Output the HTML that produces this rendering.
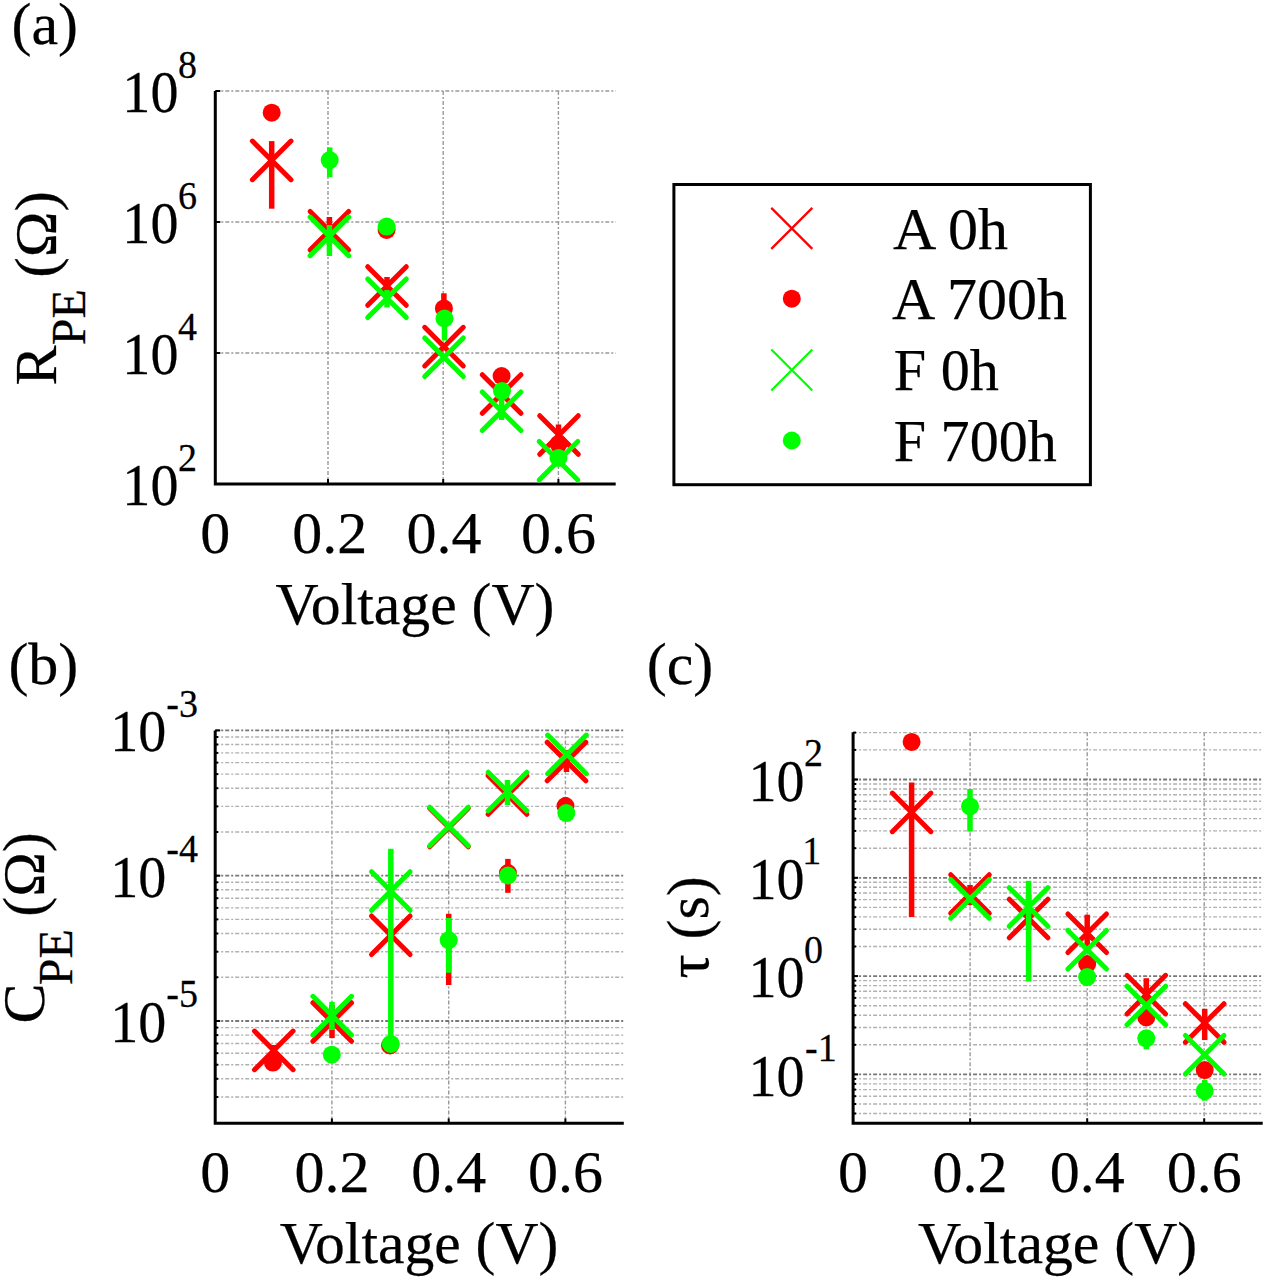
<!DOCTYPE html><html><head><meta charset="utf-8"><style>html,body{margin:0;padding:0;background:#fff;}svg{display:block;font-family:"Liberation Serif", serif}text{fill:#000;stroke:#000;stroke-width:0.25px}</style></head><body>
<svg width="1267" height="1280" viewBox="0 0 1267 1280" >
<rect width="1267" height="1280" fill="#fff"/>
<line x1="328.0" y1="91.0" x2="328.0" y2="484.0" stroke="#999" stroke-width="1.4" stroke-dasharray="4 2 2 2"/>
<line x1="443.2" y1="91.0" x2="443.2" y2="484.0" stroke="#999" stroke-width="1.4" stroke-dasharray="4 2 2 2"/>
<line x1="558.4" y1="91.0" x2="558.4" y2="484.0" stroke="#999" stroke-width="1.4" stroke-dasharray="4 2 2 2"/>
<line x1="215.3" y1="91.0" x2="615.7" y2="91.0" stroke="#999" stroke-width="1.4" stroke-dasharray="4 2 2 2"/>
<line x1="215.3" y1="222.0" x2="615.7" y2="222.0" stroke="#999" stroke-width="1.4" stroke-dasharray="4 2 2 2"/>
<line x1="215.3" y1="353.0" x2="615.7" y2="353.0" stroke="#999" stroke-width="1.4" stroke-dasharray="4 2 2 2"/>
<line x1="328.0" y1="484.0" x2="328.0" y2="479.0" stroke="#000" stroke-width="2"/>
<line x1="443.2" y1="484.0" x2="443.2" y2="479.0" stroke="#000" stroke-width="2"/>
<line x1="558.4" y1="484.0" x2="558.4" y2="479.0" stroke="#000" stroke-width="2"/>
<line x1="215.3" y1="91.0" x2="220.3" y2="91.0" stroke="#000" stroke-width="2"/>
<line x1="215.3" y1="222.0" x2="220.3" y2="222.0" stroke="#000" stroke-width="2"/>
<line x1="215.3" y1="353.0" x2="220.3" y2="353.0" stroke="#000" stroke-width="2"/>
<path d="M215.3 91.0V484.0H615.7" stroke="#000" stroke-width="3" fill="none"/>
<text transform="translate(122.33 112.20) scale(0.935 1)" font-size="60">10</text>
<text transform="translate(177.90 77.50) scale(0.95 1)" font-size="40">8</text>
<text transform="translate(122.33 243.20) scale(0.935 1)" font-size="60">10</text>
<text transform="translate(177.90 208.50) scale(0.95 1)" font-size="40">6</text>
<text transform="translate(122.33 374.20) scale(0.935 1)" font-size="60">10</text>
<text transform="translate(177.90 339.50) scale(0.95 1)" font-size="40">4</text>
<text transform="translate(122.33 505.20) scale(0.935 1)" font-size="60">10</text>
<text transform="translate(177.90 470.50) scale(0.95 1)" font-size="40">2</text>
<text x="215.3" y="552.6" font-size="60" text-anchor="middle">0</text>
<text x="329.7" y="552.6" font-size="60" text-anchor="middle">0.2</text>
<text x="444.1" y="552.6" font-size="60" text-anchor="middle">0.4</text>
<text x="558.5" y="552.6" font-size="60" text-anchor="middle">0.6</text>
<text x="275.4" y="624.4" font-size="60" textLength="279" lengthAdjust="spacingAndGlyphs">Voltage (V)</text>
<text x="11.5" y="44.4" font-size="60" >(a)</text>
<text transform="translate(56.00 385.60) rotate(-90)" font-size="60">R</text>
<text transform="translate(85.00 345.20) rotate(-90)" font-size="48">PE</text>
<text transform="translate(56.00 277.80) rotate(-90)" font-size="60" textLength="86.8" lengthAdjust="spacingAndGlyphs">(Ω)</text>
<line x1="271.7" y1="141.1" x2="271.7" y2="208.7" stroke="#ff0000" stroke-width="5.5"/>
<path d="M252.4 141.1L291.0 179.7M252.4 179.7L291.0 141.1" stroke="#ff0000" stroke-width="5.0" stroke-linecap="round" fill="none"/>
<line x1="329.4" y1="217.0" x2="329.4" y2="245.0" stroke="#ff0000" stroke-width="5.5"/>
<path d="M310.1 211.4L348.7 250.0M310.1 250.0L348.7 211.4" stroke="#ff0000" stroke-width="5.0" stroke-linecap="round" fill="none"/>
<line x1="387.0" y1="277.0" x2="387.0" y2="295.0" stroke="#ff0000" stroke-width="5.5"/>
<path d="M367.7 266.7L406.3 305.3M367.7 305.3L406.3 266.7" stroke="#ff0000" stroke-width="5.0" stroke-linecap="round" fill="none"/>
<path d="M424.7 327.3L463.3 365.9M424.7 365.9L463.3 327.3" stroke="#ff0000" stroke-width="5.0" stroke-linecap="round" fill="none"/>
<path d="M482.3 374.7L520.9 413.3M482.3 413.3L520.9 374.7" stroke="#ff0000" stroke-width="5.0" stroke-linecap="round" fill="none"/>
<line x1="558.5" y1="424.5" x2="558.5" y2="446.0" stroke="#ff0000" stroke-width="5.5"/>
<path d="M539.7 415.7L578.3 454.3M539.7 454.3L578.3 415.7" stroke="#ff0000" stroke-width="5.0" stroke-linecap="round" fill="none"/>
<circle cx="271.7" cy="112.7" r="9.0" fill="#ff0000"/>
<circle cx="386.6" cy="230.0" r="9.0" fill="#ff0000"/>
<line x1="443.9" y1="293.3" x2="443.9" y2="320.0" stroke="#ff0000" stroke-width="5.5"/>
<circle cx="443.9" cy="308.4" r="9.0" fill="#ff0000"/>
<circle cx="501.6" cy="376.0" r="9.0" fill="#ff0000"/>
<circle cx="558.5" cy="444.0" r="9.0" fill="#ff0000"/>
<line x1="329.4" y1="225.0" x2="329.4" y2="256.0" stroke="#00ff00" stroke-width="5.5"/>
<path d="M310.1 217.1L348.7 255.7M310.1 255.7L348.7 217.1" stroke="#00ff00" stroke-width="5.0" stroke-linecap="round" fill="none"/>
<line x1="387.0" y1="290.0" x2="387.0" y2="307.4" stroke="#00ff00" stroke-width="5.5"/>
<path d="M367.7 279.0L406.3 317.6M367.7 317.6L406.3 279.0" stroke="#00ff00" stroke-width="5.0" stroke-linecap="round" fill="none"/>
<path d="M424.7 338.0L463.3 376.6M424.7 376.6L463.3 338.0" stroke="#00ff00" stroke-width="5.0" stroke-linecap="round" fill="none"/>
<line x1="501.6" y1="385.0" x2="501.6" y2="420.0" stroke="#00ff00" stroke-width="5.5"/>
<path d="M482.3 392.0L520.9 430.6M482.3 430.6L520.9 392.0" stroke="#00ff00" stroke-width="5.0" stroke-linecap="round" fill="none"/>
<path d="M539.2 441.5L577.8 480.1M539.2 480.1L577.8 441.5" stroke="#00ff00" stroke-width="5.0" stroke-linecap="round" fill="none"/>
<circle cx="329.7" cy="160.1" r="9.0" fill="#00ff00"/>
<line x1="329.7" y1="147.4" x2="329.7" y2="177.1" stroke="#00ff00" stroke-width="5.5"/>
<circle cx="386.6" cy="226.6" r="9.0" fill="#00ff00"/>
<line x1="444.5" y1="310.0" x2="444.5" y2="340.6" stroke="#00ff00" stroke-width="5.5"/>
<circle cx="444.5" cy="318.5" r="9.0" fill="#00ff00"/>
<circle cx="502.0" cy="391.1" r="9.0" fill="#00ff00"/>
<circle cx="558.5" cy="458.0" r="9.0" fill="#00ff00"/>
<rect x="673.9" y="184.5" width="416.5" height="300.2" fill="none" stroke="#000" stroke-width="3"/>
<path d="M771.3 207.9L812.3 248.9M771.3 248.9L812.3 207.9" stroke="#ff0000" stroke-width="2.2" fill="none"/>
<circle cx="791.8" cy="298.7" r="9.0" fill="#ff0000"/>
<path d="M771.3 349.5L812.3 390.5M771.3 390.5L812.3 349.5" stroke="#00ff00" stroke-width="2.2" fill="none"/>
<circle cx="791.8" cy="440.5" r="9.0" fill="#00ff00"/>
<text x="893.1" y="248.6" font-size="60" >A 0h</text>
<text x="892.1" y="318.7" font-size="60" >A 700h</text>
<text x="893.8" y="389.9" font-size="60" textLength="105.1" lengthAdjust="spacingAndGlyphs">F 0h</text>
<text x="893.8" y="460.6" font-size="60" textLength="163" lengthAdjust="spacingAndGlyphs">F 700h</text>
<line x1="331.9" y1="730.5" x2="331.9" y2="1123.3" stroke="#999" stroke-width="1.4" stroke-dasharray="4 2 2 2"/>
<line x1="448.7" y1="730.5" x2="448.7" y2="1123.3" stroke="#999" stroke-width="1.4" stroke-dasharray="4 2 2 2"/>
<line x1="565.4" y1="730.5" x2="565.4" y2="1123.3" stroke="#999" stroke-width="1.4" stroke-dasharray="4 2 2 2"/>
<line x1="215.2" y1="1097.0" x2="623.8" y2="1097.0" stroke="#b0b0b0" stroke-width="1.4" stroke-dasharray="4 2 2 2"/>
<line x1="215.2" y1="1078.8" x2="623.8" y2="1078.8" stroke="#b0b0b0" stroke-width="1.4" stroke-dasharray="4 2 2 2"/>
<line x1="215.2" y1="1064.7" x2="623.8" y2="1064.7" stroke="#b0b0b0" stroke-width="1.4" stroke-dasharray="4 2 2 2"/>
<line x1="215.2" y1="1053.2" x2="623.8" y2="1053.2" stroke="#b0b0b0" stroke-width="1.4" stroke-dasharray="4 2 2 2"/>
<line x1="215.2" y1="1043.5" x2="623.8" y2="1043.5" stroke="#b0b0b0" stroke-width="1.4" stroke-dasharray="4 2 2 2"/>
<line x1="215.2" y1="1035.1" x2="623.8" y2="1035.1" stroke="#b0b0b0" stroke-width="1.4" stroke-dasharray="4 2 2 2"/>
<line x1="215.2" y1="1027.6" x2="623.8" y2="1027.6" stroke="#b0b0b0" stroke-width="1.4" stroke-dasharray="4 2 2 2"/>
<line x1="215.2" y1="977.3" x2="623.8" y2="977.3" stroke="#b0b0b0" stroke-width="1.4" stroke-dasharray="4 2 2 2"/>
<line x1="215.2" y1="951.7" x2="623.8" y2="951.7" stroke="#b0b0b0" stroke-width="1.4" stroke-dasharray="4 2 2 2"/>
<line x1="215.2" y1="933.5" x2="623.8" y2="933.5" stroke="#b0b0b0" stroke-width="1.4" stroke-dasharray="4 2 2 2"/>
<line x1="215.2" y1="919.4" x2="623.8" y2="919.4" stroke="#b0b0b0" stroke-width="1.4" stroke-dasharray="4 2 2 2"/>
<line x1="215.2" y1="907.9" x2="623.8" y2="907.9" stroke="#b0b0b0" stroke-width="1.4" stroke-dasharray="4 2 2 2"/>
<line x1="215.2" y1="898.2" x2="623.8" y2="898.2" stroke="#b0b0b0" stroke-width="1.4" stroke-dasharray="4 2 2 2"/>
<line x1="215.2" y1="889.8" x2="623.8" y2="889.8" stroke="#b0b0b0" stroke-width="1.4" stroke-dasharray="4 2 2 2"/>
<line x1="215.2" y1="882.3" x2="623.8" y2="882.3" stroke="#b0b0b0" stroke-width="1.4" stroke-dasharray="4 2 2 2"/>
<line x1="215.2" y1="832.0" x2="623.8" y2="832.0" stroke="#b0b0b0" stroke-width="1.4" stroke-dasharray="4 2 2 2"/>
<line x1="215.2" y1="806.4" x2="623.8" y2="806.4" stroke="#b0b0b0" stroke-width="1.4" stroke-dasharray="4 2 2 2"/>
<line x1="215.2" y1="788.2" x2="623.8" y2="788.2" stroke="#b0b0b0" stroke-width="1.4" stroke-dasharray="4 2 2 2"/>
<line x1="215.2" y1="774.1" x2="623.8" y2="774.1" stroke="#b0b0b0" stroke-width="1.4" stroke-dasharray="4 2 2 2"/>
<line x1="215.2" y1="762.6" x2="623.8" y2="762.6" stroke="#b0b0b0" stroke-width="1.4" stroke-dasharray="4 2 2 2"/>
<line x1="215.2" y1="752.9" x2="623.8" y2="752.9" stroke="#b0b0b0" stroke-width="1.4" stroke-dasharray="4 2 2 2"/>
<line x1="215.2" y1="744.5" x2="623.8" y2="744.5" stroke="#b0b0b0" stroke-width="1.4" stroke-dasharray="4 2 2 2"/>
<line x1="215.2" y1="737.0" x2="623.8" y2="737.0" stroke="#b0b0b0" stroke-width="1.4" stroke-dasharray="4 2 2 2"/>
<line x1="215.2" y1="730.4" x2="623.8" y2="730.4" stroke="#777" stroke-width="1.8" stroke-dasharray="4 2 2 2"/>
<line x1="215.2" y1="875.7" x2="623.8" y2="875.7" stroke="#777" stroke-width="1.8" stroke-dasharray="4 2 2 2"/>
<line x1="215.2" y1="1021.0" x2="623.8" y2="1021.0" stroke="#777" stroke-width="1.8" stroke-dasharray="4 2 2 2"/>
<line x1="331.9" y1="1123.3" x2="331.9" y2="1118.3" stroke="#000" stroke-width="2"/>
<line x1="448.7" y1="1123.3" x2="448.7" y2="1118.3" stroke="#000" stroke-width="2"/>
<line x1="565.4" y1="1123.3" x2="565.4" y2="1118.3" stroke="#000" stroke-width="2"/>
<line x1="215.2" y1="730.4" x2="220.2" y2="730.4" stroke="#000" stroke-width="2"/>
<line x1="215.2" y1="875.7" x2="220.2" y2="875.7" stroke="#000" stroke-width="2"/>
<line x1="215.2" y1="1021.0" x2="220.2" y2="1021.0" stroke="#000" stroke-width="2"/>
<line x1="215.2" y1="1097.0" x2="218.2" y2="1097.0" stroke="#000" stroke-width="2"/>
<line x1="215.2" y1="1078.8" x2="218.2" y2="1078.8" stroke="#000" stroke-width="2"/>
<line x1="215.2" y1="1064.7" x2="218.2" y2="1064.7" stroke="#000" stroke-width="2"/>
<line x1="215.2" y1="1053.2" x2="218.2" y2="1053.2" stroke="#000" stroke-width="2"/>
<line x1="215.2" y1="1043.5" x2="218.2" y2="1043.5" stroke="#000" stroke-width="2"/>
<line x1="215.2" y1="1035.1" x2="218.2" y2="1035.1" stroke="#000" stroke-width="2"/>
<line x1="215.2" y1="1027.6" x2="218.2" y2="1027.6" stroke="#000" stroke-width="2"/>
<line x1="215.2" y1="977.3" x2="218.2" y2="977.3" stroke="#000" stroke-width="2"/>
<line x1="215.2" y1="951.7" x2="218.2" y2="951.7" stroke="#000" stroke-width="2"/>
<line x1="215.2" y1="933.5" x2="218.2" y2="933.5" stroke="#000" stroke-width="2"/>
<line x1="215.2" y1="919.4" x2="218.2" y2="919.4" stroke="#000" stroke-width="2"/>
<line x1="215.2" y1="907.9" x2="218.2" y2="907.9" stroke="#000" stroke-width="2"/>
<line x1="215.2" y1="898.2" x2="218.2" y2="898.2" stroke="#000" stroke-width="2"/>
<line x1="215.2" y1="889.8" x2="218.2" y2="889.8" stroke="#000" stroke-width="2"/>
<line x1="215.2" y1="882.3" x2="218.2" y2="882.3" stroke="#000" stroke-width="2"/>
<line x1="215.2" y1="832.0" x2="218.2" y2="832.0" stroke="#000" stroke-width="2"/>
<line x1="215.2" y1="806.4" x2="218.2" y2="806.4" stroke="#000" stroke-width="2"/>
<line x1="215.2" y1="788.2" x2="218.2" y2="788.2" stroke="#000" stroke-width="2"/>
<line x1="215.2" y1="774.1" x2="218.2" y2="774.1" stroke="#000" stroke-width="2"/>
<line x1="215.2" y1="762.6" x2="218.2" y2="762.6" stroke="#000" stroke-width="2"/>
<line x1="215.2" y1="752.9" x2="218.2" y2="752.9" stroke="#000" stroke-width="2"/>
<line x1="215.2" y1="744.5" x2="218.2" y2="744.5" stroke="#000" stroke-width="2"/>
<line x1="215.2" y1="737.0" x2="218.2" y2="737.0" stroke="#000" stroke-width="2"/>
<path d="M215.2 730.5V1123.3H623.8" stroke="#000" stroke-width="3" fill="none"/>
<text transform="translate(110.23 751.40) scale(0.935 1)" font-size="60">10</text>
<text transform="translate(166.25 716.70) scale(0.95 1)" font-size="40">-3</text>
<text transform="translate(110.23 896.70) scale(0.935 1)" font-size="60">10</text>
<text transform="translate(166.25 862.00) scale(0.95 1)" font-size="40">-4</text>
<text transform="translate(110.23 1042.00) scale(0.935 1)" font-size="60">10</text>
<text transform="translate(166.25 1007.30) scale(0.95 1)" font-size="40">-5</text>
<text x="215.2" y="1192.0" font-size="60" text-anchor="middle">0</text>
<text x="331.9" y="1192.0" font-size="60" text-anchor="middle">0.2</text>
<text x="448.7" y="1192.0" font-size="60" text-anchor="middle">0.4</text>
<text x="565.4" y="1192.0" font-size="60" text-anchor="middle">0.6</text>
<text x="279.7" y="1263.3" font-size="60" textLength="278.6" lengthAdjust="spacingAndGlyphs">Voltage (V)</text>
<text x="8.4" y="683.8" font-size="60" >(b)</text>
<text transform="translate(44.20 1023.40) rotate(-90)" font-size="60">C</text>
<text transform="translate(72.20 985.20) rotate(-90)" font-size="48">PE</text>
<text transform="translate(44.20 916.70) rotate(-90)" font-size="60" textLength="84.56" lengthAdjust="spacingAndGlyphs">(Ω)</text>
<line x1="273.5" y1="1045.0" x2="273.5" y2="1068.0" stroke="#ff0000" stroke-width="5.5"/>
<path d="M254.5 1031.1L293.1 1069.7M254.5 1069.7L293.1 1031.1" stroke="#ff0000" stroke-width="5.0" stroke-linecap="round" fill="none"/>
<line x1="332.0" y1="1005.0" x2="332.0" y2="1038.1" stroke="#ff0000" stroke-width="5.5"/>
<path d="M312.9 1002.7L351.5 1041.3M312.9 1041.3L351.5 1002.7" stroke="#ff0000" stroke-width="5.0" stroke-linecap="round" fill="none"/>
<line x1="390.8" y1="912.8" x2="390.8" y2="965.7" stroke="#ff0000" stroke-width="3"/>
<path d="M371.5 915.9L410.1 954.5M371.5 954.5L410.1 915.9" stroke="#ff0000" stroke-width="5.0" stroke-linecap="round" fill="none"/>
<path d="M429.7 808.2L468.3 846.8M429.7 846.8L468.3 808.2" stroke="#ff0000" stroke-width="5.0" stroke-linecap="round" fill="none"/>
<path d="M488.2 775.7L526.8 814.3M488.2 814.3L526.8 775.7" stroke="#ff0000" stroke-width="5.0" stroke-linecap="round" fill="none"/>
<line x1="566.5" y1="750.0" x2="566.5" y2="772.0" stroke="#ff0000" stroke-width="5.5"/>
<path d="M547.2 742.2L585.8 780.8M547.2 780.8L585.8 742.2" stroke="#ff0000" stroke-width="5.0" stroke-linecap="round" fill="none"/>
<circle cx="272.9" cy="1062.6" r="9.0" fill="#ff0000"/>
<circle cx="390.0" cy="1045.5" r="9.0" fill="#ff0000"/>
<line x1="448.7" y1="913.8" x2="448.7" y2="985.0" stroke="#ff0000" stroke-width="5.5"/>
<line x1="507.9" y1="858.9" x2="507.9" y2="892.8" stroke="#ff0000" stroke-width="5.5"/>
<circle cx="507.9" cy="873.0" r="9.0" fill="#ff0000"/>
<line x1="565.5" y1="797.3" x2="565.5" y2="815.0" stroke="#ff0000" stroke-width="5.5"/>
<circle cx="565.5" cy="806.0" r="9.0" fill="#ff0000"/>
<line x1="332.0" y1="1001.8" x2="332.0" y2="1030.0" stroke="#00ff00" stroke-width="5.5"/>
<path d="M312.9 996.3L351.5 1034.9M312.9 1034.9L351.5 996.3" stroke="#00ff00" stroke-width="5.0" stroke-linecap="round" fill="none"/>
<line x1="390.8" y1="848.8" x2="390.8" y2="1043.9" stroke="#00ff00" stroke-width="5.5"/>
<path d="M371.5 871.7L410.1 910.3M371.5 910.3L410.1 871.7" stroke="#00ff00" stroke-width="5.0" stroke-linecap="round" fill="none"/>
<path d="M429.7 807.2L468.3 845.8M429.7 845.8L468.3 807.2" stroke="#00ff00" stroke-width="5.0" stroke-linecap="round" fill="none"/>
<line x1="507.5" y1="780.0" x2="507.5" y2="805.0" stroke="#00ff00" stroke-width="5.5"/>
<path d="M488.2 772.2L526.8 810.8M488.2 810.8L526.8 772.2" stroke="#00ff00" stroke-width="5.0" stroke-linecap="round" fill="none"/>
<path d="M547.7 735.1L586.3 773.7M547.7 773.7L586.3 735.1" stroke="#00ff00" stroke-width="5.0" stroke-linecap="round" fill="none"/>
<circle cx="331.8" cy="1054.7" r="9.0" fill="#00ff00"/>
<circle cx="390.8" cy="1043.9" r="9.0" fill="#00ff00"/>
<line x1="448.7" y1="917.9" x2="448.7" y2="972.8" stroke="#00ff00" stroke-width="5.5"/>
<circle cx="448.7" cy="940.2" r="9.0" fill="#00ff00"/>
<circle cx="507.9" cy="875.5" r="9.0" fill="#00ff00"/>
<circle cx="566.3" cy="813.1" r="9.0" fill="#00ff00"/>
<line x1="970.1" y1="732.2" x2="970.1" y2="1123.3" stroke="#999" stroke-width="1.4" stroke-dasharray="4 2 2 2"/>
<line x1="1087.2" y1="732.2" x2="1087.2" y2="1123.3" stroke="#999" stroke-width="1.4" stroke-dasharray="4 2 2 2"/>
<line x1="1204.2" y1="732.2" x2="1204.2" y2="1123.3" stroke="#999" stroke-width="1.4" stroke-dasharray="4 2 2 2"/>
<line x1="853.1" y1="1113.5" x2="1262.7" y2="1113.5" stroke="#b0b0b0" stroke-width="1.4" stroke-dasharray="4 2 2 2"/>
<line x1="853.1" y1="1104.0" x2="1262.7" y2="1104.0" stroke="#b0b0b0" stroke-width="1.4" stroke-dasharray="4 2 2 2"/>
<line x1="853.1" y1="1096.2" x2="1262.7" y2="1096.2" stroke="#b0b0b0" stroke-width="1.4" stroke-dasharray="4 2 2 2"/>
<line x1="853.1" y1="1089.6" x2="1262.7" y2="1089.6" stroke="#b0b0b0" stroke-width="1.4" stroke-dasharray="4 2 2 2"/>
<line x1="853.1" y1="1083.9" x2="1262.7" y2="1083.9" stroke="#b0b0b0" stroke-width="1.4" stroke-dasharray="4 2 2 2"/>
<line x1="853.1" y1="1078.9" x2="1262.7" y2="1078.9" stroke="#b0b0b0" stroke-width="1.4" stroke-dasharray="4 2 2 2"/>
<line x1="853.1" y1="1044.8" x2="1262.7" y2="1044.8" stroke="#b0b0b0" stroke-width="1.4" stroke-dasharray="4 2 2 2"/>
<line x1="853.1" y1="1027.5" x2="1262.7" y2="1027.5" stroke="#b0b0b0" stroke-width="1.4" stroke-dasharray="4 2 2 2"/>
<line x1="853.1" y1="1015.2" x2="1262.7" y2="1015.2" stroke="#b0b0b0" stroke-width="1.4" stroke-dasharray="4 2 2 2"/>
<line x1="853.1" y1="1005.7" x2="1262.7" y2="1005.7" stroke="#b0b0b0" stroke-width="1.4" stroke-dasharray="4 2 2 2"/>
<line x1="853.1" y1="997.9" x2="1262.7" y2="997.9" stroke="#b0b0b0" stroke-width="1.4" stroke-dasharray="4 2 2 2"/>
<line x1="853.1" y1="991.3" x2="1262.7" y2="991.3" stroke="#b0b0b0" stroke-width="1.4" stroke-dasharray="4 2 2 2"/>
<line x1="853.1" y1="985.6" x2="1262.7" y2="985.6" stroke="#b0b0b0" stroke-width="1.4" stroke-dasharray="4 2 2 2"/>
<line x1="853.1" y1="980.6" x2="1262.7" y2="980.6" stroke="#b0b0b0" stroke-width="1.4" stroke-dasharray="4 2 2 2"/>
<line x1="853.1" y1="946.5" x2="1262.7" y2="946.5" stroke="#b0b0b0" stroke-width="1.4" stroke-dasharray="4 2 2 2"/>
<line x1="853.1" y1="929.2" x2="1262.7" y2="929.2" stroke="#b0b0b0" stroke-width="1.4" stroke-dasharray="4 2 2 2"/>
<line x1="853.1" y1="916.9" x2="1262.7" y2="916.9" stroke="#b0b0b0" stroke-width="1.4" stroke-dasharray="4 2 2 2"/>
<line x1="853.1" y1="907.4" x2="1262.7" y2="907.4" stroke="#b0b0b0" stroke-width="1.4" stroke-dasharray="4 2 2 2"/>
<line x1="853.1" y1="899.6" x2="1262.7" y2="899.6" stroke="#b0b0b0" stroke-width="1.4" stroke-dasharray="4 2 2 2"/>
<line x1="853.1" y1="893.0" x2="1262.7" y2="893.0" stroke="#b0b0b0" stroke-width="1.4" stroke-dasharray="4 2 2 2"/>
<line x1="853.1" y1="887.3" x2="1262.7" y2="887.3" stroke="#b0b0b0" stroke-width="1.4" stroke-dasharray="4 2 2 2"/>
<line x1="853.1" y1="882.3" x2="1262.7" y2="882.3" stroke="#b0b0b0" stroke-width="1.4" stroke-dasharray="4 2 2 2"/>
<line x1="853.1" y1="848.2" x2="1262.7" y2="848.2" stroke="#b0b0b0" stroke-width="1.4" stroke-dasharray="4 2 2 2"/>
<line x1="853.1" y1="830.9" x2="1262.7" y2="830.9" stroke="#b0b0b0" stroke-width="1.4" stroke-dasharray="4 2 2 2"/>
<line x1="853.1" y1="818.6" x2="1262.7" y2="818.6" stroke="#b0b0b0" stroke-width="1.4" stroke-dasharray="4 2 2 2"/>
<line x1="853.1" y1="809.1" x2="1262.7" y2="809.1" stroke="#b0b0b0" stroke-width="1.4" stroke-dasharray="4 2 2 2"/>
<line x1="853.1" y1="801.3" x2="1262.7" y2="801.3" stroke="#b0b0b0" stroke-width="1.4" stroke-dasharray="4 2 2 2"/>
<line x1="853.1" y1="794.7" x2="1262.7" y2="794.7" stroke="#b0b0b0" stroke-width="1.4" stroke-dasharray="4 2 2 2"/>
<line x1="853.1" y1="789.0" x2="1262.7" y2="789.0" stroke="#b0b0b0" stroke-width="1.4" stroke-dasharray="4 2 2 2"/>
<line x1="853.1" y1="784.0" x2="1262.7" y2="784.0" stroke="#b0b0b0" stroke-width="1.4" stroke-dasharray="4 2 2 2"/>
<line x1="853.1" y1="749.9" x2="1262.7" y2="749.9" stroke="#b0b0b0" stroke-width="1.4" stroke-dasharray="4 2 2 2"/>
<line x1="853.1" y1="732.6" x2="1262.7" y2="732.6" stroke="#b0b0b0" stroke-width="1.4" stroke-dasharray="4 2 2 2"/>
<line x1="853.1" y1="779.5" x2="1262.7" y2="779.5" stroke="#777" stroke-width="1.8" stroke-dasharray="4 2 2 2"/>
<line x1="853.1" y1="877.8" x2="1262.7" y2="877.8" stroke="#777" stroke-width="1.8" stroke-dasharray="4 2 2 2"/>
<line x1="853.1" y1="976.1" x2="1262.7" y2="976.1" stroke="#777" stroke-width="1.8" stroke-dasharray="4 2 2 2"/>
<line x1="853.1" y1="1074.4" x2="1262.7" y2="1074.4" stroke="#777" stroke-width="1.8" stroke-dasharray="4 2 2 2"/>
<line x1="970.1" y1="1123.3" x2="970.1" y2="1118.3" stroke="#000" stroke-width="2"/>
<line x1="1087.2" y1="1123.3" x2="1087.2" y2="1118.3" stroke="#000" stroke-width="2"/>
<line x1="1204.2" y1="1123.3" x2="1204.2" y2="1118.3" stroke="#000" stroke-width="2"/>
<line x1="853.1" y1="779.5" x2="858.1" y2="779.5" stroke="#000" stroke-width="2"/>
<line x1="853.1" y1="877.8" x2="858.1" y2="877.8" stroke="#000" stroke-width="2"/>
<line x1="853.1" y1="976.1" x2="858.1" y2="976.1" stroke="#000" stroke-width="2"/>
<line x1="853.1" y1="1074.4" x2="858.1" y2="1074.4" stroke="#000" stroke-width="2"/>
<line x1="853.1" y1="1113.5" x2="856.1" y2="1113.5" stroke="#000" stroke-width="2"/>
<line x1="853.1" y1="1104.0" x2="856.1" y2="1104.0" stroke="#000" stroke-width="2"/>
<line x1="853.1" y1="1096.2" x2="856.1" y2="1096.2" stroke="#000" stroke-width="2"/>
<line x1="853.1" y1="1089.6" x2="856.1" y2="1089.6" stroke="#000" stroke-width="2"/>
<line x1="853.1" y1="1083.9" x2="856.1" y2="1083.9" stroke="#000" stroke-width="2"/>
<line x1="853.1" y1="1078.9" x2="856.1" y2="1078.9" stroke="#000" stroke-width="2"/>
<line x1="853.1" y1="1044.8" x2="856.1" y2="1044.8" stroke="#000" stroke-width="2"/>
<line x1="853.1" y1="1027.5" x2="856.1" y2="1027.5" stroke="#000" stroke-width="2"/>
<line x1="853.1" y1="1015.2" x2="856.1" y2="1015.2" stroke="#000" stroke-width="2"/>
<line x1="853.1" y1="1005.7" x2="856.1" y2="1005.7" stroke="#000" stroke-width="2"/>
<line x1="853.1" y1="997.9" x2="856.1" y2="997.9" stroke="#000" stroke-width="2"/>
<line x1="853.1" y1="991.3" x2="856.1" y2="991.3" stroke="#000" stroke-width="2"/>
<line x1="853.1" y1="985.6" x2="856.1" y2="985.6" stroke="#000" stroke-width="2"/>
<line x1="853.1" y1="980.6" x2="856.1" y2="980.6" stroke="#000" stroke-width="2"/>
<line x1="853.1" y1="946.5" x2="856.1" y2="946.5" stroke="#000" stroke-width="2"/>
<line x1="853.1" y1="929.2" x2="856.1" y2="929.2" stroke="#000" stroke-width="2"/>
<line x1="853.1" y1="916.9" x2="856.1" y2="916.9" stroke="#000" stroke-width="2"/>
<line x1="853.1" y1="907.4" x2="856.1" y2="907.4" stroke="#000" stroke-width="2"/>
<line x1="853.1" y1="899.6" x2="856.1" y2="899.6" stroke="#000" stroke-width="2"/>
<line x1="853.1" y1="893.0" x2="856.1" y2="893.0" stroke="#000" stroke-width="2"/>
<line x1="853.1" y1="887.3" x2="856.1" y2="887.3" stroke="#000" stroke-width="2"/>
<line x1="853.1" y1="882.3" x2="856.1" y2="882.3" stroke="#000" stroke-width="2"/>
<line x1="853.1" y1="848.2" x2="856.1" y2="848.2" stroke="#000" stroke-width="2"/>
<line x1="853.1" y1="830.9" x2="856.1" y2="830.9" stroke="#000" stroke-width="2"/>
<line x1="853.1" y1="818.6" x2="856.1" y2="818.6" stroke="#000" stroke-width="2"/>
<line x1="853.1" y1="809.1" x2="856.1" y2="809.1" stroke="#000" stroke-width="2"/>
<line x1="853.1" y1="801.3" x2="856.1" y2="801.3" stroke="#000" stroke-width="2"/>
<line x1="853.1" y1="794.7" x2="856.1" y2="794.7" stroke="#000" stroke-width="2"/>
<line x1="853.1" y1="789.0" x2="856.1" y2="789.0" stroke="#000" stroke-width="2"/>
<line x1="853.1" y1="784.0" x2="856.1" y2="784.0" stroke="#000" stroke-width="2"/>
<line x1="853.1" y1="749.9" x2="856.1" y2="749.9" stroke="#000" stroke-width="2"/>
<line x1="853.1" y1="732.6" x2="856.1" y2="732.6" stroke="#000" stroke-width="2"/>
<path d="M853.1 732.2V1123.3H1262.7" stroke="#000" stroke-width="3" fill="none"/>
<text transform="translate(748.53 800.70) scale(0.935 1)" font-size="60">10</text>
<text transform="translate(804.10 766.00) scale(0.95 1)" font-size="40">2</text>
<text transform="translate(748.53 899.00) scale(0.935 1)" font-size="60">10</text>
<text transform="translate(802.20 864.30) scale(0.95 1)" font-size="40">1</text>
<text transform="translate(748.53 997.30) scale(0.935 1)" font-size="60">10</text>
<text transform="translate(804.10 962.60) scale(0.95 1)" font-size="40">0</text>
<text transform="translate(748.53 1095.60) scale(0.935 1)" font-size="60">10</text>
<text transform="translate(805.05 1060.90) scale(0.95 1)" font-size="40">-1</text>
<text x="853.1" y="1192.0" font-size="60" text-anchor="middle">0</text>
<text x="970.1" y="1192.0" font-size="60" text-anchor="middle">0.2</text>
<text x="1087.2" y="1192.0" font-size="60" text-anchor="middle">0.4</text>
<text x="1204.2" y="1192.0" font-size="60" text-anchor="middle">0.6</text>
<text x="917.9" y="1263.1" font-size="60" textLength="279.3" lengthAdjust="spacingAndGlyphs">Voltage (V)</text>
<text x="646.7" y="683.8" font-size="60" >(c)</text>
<text transform="translate(707.8 978.6) rotate(-90)" font-size="60">τ (s)</text>
<line x1="911.6" y1="782.4" x2="911.6" y2="917.0" stroke="#ff0000" stroke-width="5.5"/>
<path d="M892.3 793.1L930.9 831.7M892.3 831.7L930.9 793.1" stroke="#ff0000" stroke-width="5.0" stroke-linecap="round" fill="none"/>
<line x1="970.0" y1="885.0" x2="970.0" y2="905.0" stroke="#ff0000" stroke-width="5.5"/>
<path d="M950.7 874.7L989.3 913.3M950.7 913.3L989.3 874.7" stroke="#ff0000" stroke-width="5.0" stroke-linecap="round" fill="none"/>
<line x1="1028.6" y1="895.0" x2="1028.6" y2="930.0" stroke="#ff0000" stroke-width="5.5"/>
<path d="M1009.3 899.2L1047.9 937.8M1009.3 937.8L1047.9 899.2" stroke="#ff0000" stroke-width="5.0" stroke-linecap="round" fill="none"/>
<line x1="1087.2" y1="914.7" x2="1087.2" y2="950.0" stroke="#ff0000" stroke-width="5.5"/>
<path d="M1067.9 914.0L1106.5 952.6M1067.9 952.6L1106.5 914.0" stroke="#ff0000" stroke-width="5.0" stroke-linecap="round" fill="none"/>
<line x1="1146.3" y1="978.2" x2="1146.3" y2="1010.0" stroke="#ff0000" stroke-width="5.5"/>
<path d="M1127.0 975.3L1165.6 1013.9M1127.0 1013.9L1165.6 975.3" stroke="#ff0000" stroke-width="5.0" stroke-linecap="round" fill="none"/>
<line x1="1204.7" y1="1008.8" x2="1204.7" y2="1040.0" stroke="#ff0000" stroke-width="5.5"/>
<path d="M1185.4 1003.7L1224.0 1042.3M1185.4 1042.3L1224.0 1003.7" stroke="#ff0000" stroke-width="5.0" stroke-linecap="round" fill="none"/>
<circle cx="911.6" cy="741.9" r="9.0" fill="#ff0000"/>
<circle cx="1087.2" cy="964.0" r="9.0" fill="#ff0000"/>
<circle cx="1146.3" cy="1017.5" r="9.0" fill="#ff0000"/>
<circle cx="1204.7" cy="1070.1" r="9.0" fill="#ff0000"/>
<path d="M950.7 879.6L989.3 918.2M950.7 918.2L989.3 879.6" stroke="#00ff00" stroke-width="5.0" stroke-linecap="round" fill="none"/>
<line x1="1028.6" y1="880.8" x2="1028.6" y2="981.5" stroke="#00ff00" stroke-width="5.5"/>
<path d="M1009.3 887.7L1047.9 926.3M1009.3 926.3L1047.9 887.7" stroke="#00ff00" stroke-width="5.0" stroke-linecap="round" fill="none"/>
<path d="M1067.9 930.5L1106.5 969.1M1067.9 969.1L1106.5 930.5" stroke="#00ff00" stroke-width="5.0" stroke-linecap="round" fill="none"/>
<path d="M1127.0 986.2L1165.6 1024.8M1127.0 1024.8L1165.6 986.2" stroke="#00ff00" stroke-width="5.0" stroke-linecap="round" fill="none"/>
<path d="M1185.4 1035.5L1224.0 1074.1M1185.4 1074.1L1224.0 1035.5" stroke="#00ff00" stroke-width="5.0" stroke-linecap="round" fill="none"/>
<line x1="970.0" y1="789.0" x2="970.0" y2="831.6" stroke="#00ff00" stroke-width="5.5"/>
<circle cx="970.0" cy="806.4" r="9.0" fill="#00ff00"/>
<circle cx="1087.2" cy="977.1" r="9.0" fill="#00ff00"/>
<line x1="1146.3" y1="1030.0" x2="1146.3" y2="1049.3" stroke="#00ff00" stroke-width="5.5"/>
<circle cx="1146.3" cy="1038.3" r="9.0" fill="#00ff00"/>
<line x1="1204.7" y1="1080.0" x2="1204.7" y2="1100.7" stroke="#00ff00" stroke-width="5.5"/>
<circle cx="1204.7" cy="1090.9" r="9.0" fill="#00ff00"/>
</svg></body></html>
